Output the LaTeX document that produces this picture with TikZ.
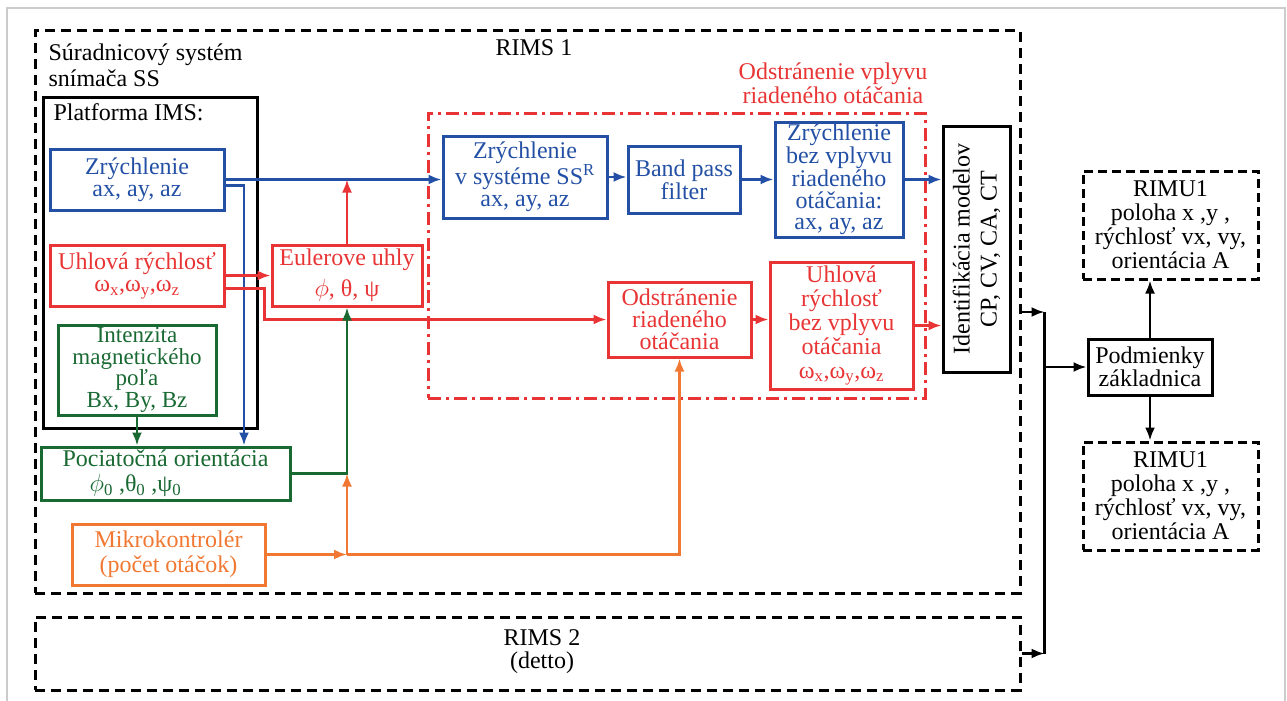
\documentclass[tikz,border=0pt]{standalone}
\usepackage{fontspec}
\setmainfont{Liberation Serif}
\usepackage{tikz}
\usetikzlibrary{arrows.meta}
\definecolor{imsblue}{RGB}{35,80,165}
\definecolor{imsred}{RGB}{232,52,52}
\definecolor{imsgreen}{RGB}{25,105,50}
\definecolor{imsorange}{RGB}{240,120,50}
\begin{document}
\begin{tikzpicture}[x=1pt,y=-1pt,
  >={Latex[length=13pt,width=10pt]},
  every node/.style={font=\fontsize{24}{22}\selectfont},
  ls/.style={font=\fontsize{24}{#1}\selectfont},
  box/.style={draw=#1,text=#1,line width=3pt,align=center,inner sep=1pt},
  wire/.style={draw=#1,line width=2.4pt},
  rimsbox/.style={draw,line width=3pt,dash pattern=on 10pt off 6pt},
  rimubox/.style={draw,line width=3pt,dash pattern=on 9pt off 5pt,align=center,inner sep=1pt},
  removebox/.style={draw=imsred,line width=3pt,dash pattern=on 13pt off 5pt on 3pt off 5pt}]
 \useasboundingbox (0,0) rectangle (1287,701);
 \draw[gray!40,line width=1.5pt] (7,710) -- (7,8) -- (1285,8) -- (1285,710);
 \node[rimsbox,minimum width=985pt,minimum height=562pt] (rims1) at (527.5,312) {};
 \node[rimsbox,minimum width=985pt,minimum height=73pt] (rims2) at (527.5,653.5) {};
 \node at (534,48) {RIMS 1};
 \node[ls=23,align=center] at (542,652) {RIMS 2\\(detto)};
 \node[ls=26,align=left,anchor=west] at (45,65) {Súradnicový systém\\snímača SS};
 \node[draw,line width=3pt,minimum width=214pt,minimum height=331pt] (ims) at (150,262.5) {};
 \node[anchor=west] at (50,112) {Platforma IMS:};
 \node[box=imsblue,ls=22,minimum width=174pt,minimum height=61pt] (acc) at (137,179.5) {Zrýchlenie\\ax, ay, az};
 \node[box=imsred,minimum width=174pt,minimum height=61pt] (uhl) at (137,275.5) {Uhlová rýchlosť\\ω\textsubscript{x},ω\textsubscript{y},ω\textsubscript{z}};
 \node[box=imsgreen,font=\fontsize{23}{21.5}\selectfont,minimum width=158pt,minimum height=90pt] (mag) at (137,370) {Intenzita\\magnetického\\poľa\\Bx, By, Bz};
 \node[box=imsred,ls=31,minimum width=150pt,minimum height=61pt] (euler) at (347,275.5) {Eulerove uhly\\$\phi$, θ, ψ};
 \node[box=imsgreen,ls=25,minimum width=249pt,minimum height=53pt] (poc) at (165.5,473.5) {Pociatočná orientácia\\$\phi$\textsubscript{0} ,θ\textsubscript{0} ,ψ\textsubscript{0}\hspace*{60pt}};
 \node[box=imsorange,ls=25,minimum width=193pt,minimum height=61pt] (mikro) at (168.5,554.5) {Mikrokontrolér\\(počet otáčok)};
 \node[removebox,minimum width=497pt,minimum height=285pt] (remove) at (676.5,255.5) {};
 \node[imsred,ls=24,align=center] at (833,83) {Odstránenie vplyvu\\riadeného otáčania};
 \node[box=imsblue,minimum width=164pt,minimum height=82pt] (accR) at (525,177) {Zrýchlenie\\v systéme SS\textsuperscript{R}\\ax, ay, az};
 \node[box=imsblue,minimum width=112pt,minimum height=67pt] (bpf) at (684,179.5) {Band pass\\filter};
 \node[box=imsblue,ls=21.5,minimum width=128pt,minimum height=115pt] (accF) at (839,179.5) {Zrýchlenie\\bez vplyvu\\riadeného\\otáčania:\\ax, ay, az};
 \node[box=imsred,minimum width=143pt,minimum height=75pt] (odst) at (679.5,319.5) {Odstránenie\\riadeného\\otáčania};
 \node[box=imsred,ls=24,minimum width=143pt,minimum height=127pt] (uhlF) at (841.5,325.5) {Uhlová\\rýchlosť\\bez vplyvu\\otáčania\\ω\textsubscript{x},ω\textsubscript{y},ω\textsubscript{z}};
 \node[draw,line width=3pt,minimum width=67pt,minimum height=246pt] (ident) at (976.5,249) {};
 \node[rotate=90,ls=27,align=center] at (ident) {Identifikácia modelov\\CP, CV, CA, CT};
 \node[rimubox,ls=24,minimum width=175pt,minimum height=108pt] (rimuA) at (1170.5,225) {RIMU1\\poloha x ,y ,\\rýchlosť vx, vy,\\orientácia A};
 \node[draw,line width=3pt,align=center,inner sep=1pt,ls=23,minimum width=124pt,minimum height=56pt] (podm) at (1150,367) {Podmienky\\základnica};
 \node[rimubox,ls=24,minimum width=175pt,minimum height=108pt] (rimuB) at (1170.5,496) {RIMU1\\poloha x ,y ,\\rýchlosť vx, vy,\\orientácia A};
 \draw[wire=imsblue,->] (acc.east) -- (acc.east -| accR.west);
 \draw[wire=imsblue,->] ([yshift=-6pt]acc.east) -| ([xshift=78.5pt]poc.north);
 \draw[wire=imsblue,->] (accR.east) -- (accR.east -| bpf.west);
 \draw[wire=imsblue,->] (bpf.east) -- (bpf.east -| accF.west);
 \draw[wire=imsblue,->] (accF.east) -- (accF.east -| ident.west);
 \draw[wire=imsred,->] (uhl.east) -- (euler.west);
 \draw[wire=imsred,->] (euler.north) -- (euler.north |- acc.east);
 \draw[wire=imsred,->] ([yshift=-13pt]uhl.east) -- ++(39,0) |- (odst.west);
 \draw[wire=imsred,->] (odst.east) -- (odst.east -| uhlF.west);
 \draw[wire=imsred,->] (uhlF.east) -- (uhlF.east -| ident.west);
 \draw[wire=imsgreen,->] (mag.south) -- (mag.south |- poc.north);
 \draw[wire=imsgreen,->] (poc.east) -| (euler.south);
 \coordinate (jo) at (euler.south |- mikro.east);
 \draw[wire=imsorange,->] (mikro.east) -- (jo);
 \draw[wire=imsorange,->] (jo) -- (jo |- poc.east);
 \draw[wire=imsorange,->] (jo) -| (odst.south);
 \coordinate (busT) at ([xshift=23pt]rims1.east);
 \coordinate (busB) at ([xshift=23pt]rims2.east);
 \draw[line width=2.4pt,->] (rims1.east) -- (busT);
 \draw[line width=2.4pt,->] (rims2.east) -- (busB);
 \draw[line width=2.4pt] (busT) -- (busB);
 \draw[line width=2.4pt,->] (busT |- podm.west) -- (podm.west);
 \draw[line width=2.4pt,->] (podm.north) -- (podm.north |- rimuA.south);
 \draw[line width=2.4pt,->] (podm.south) -- (podm.south |- rimuB.north);
\end{tikzpicture}
\end{document}
